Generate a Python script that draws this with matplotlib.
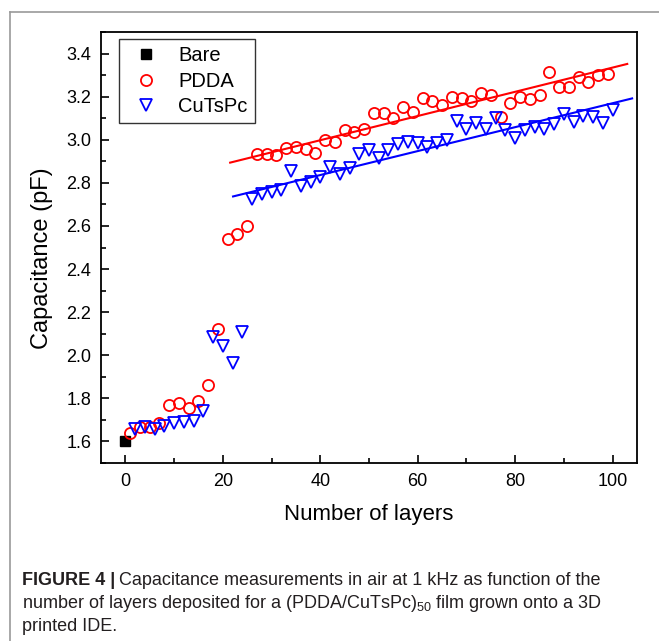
import numpy as np
import matplotlib
matplotlib.use("Agg")
import matplotlib.pyplot as plt
from matplotlib.lines import Line2D

plt.rcParams['font.family'] = ['Liberation Sans', 'DejaVu Sans']
plt.rcParams['mathtext.default'] = 'regular'

# data
bare_x = [0]
bare_y = [1.60]

pdda_x = list(range(1, 100, 2))
pdda_y = [1.640, 1.665, 1.665, 1.685, 1.770, 1.778, 1.756, 1.790, 1.864, 2.122,
          2.538, 2.565, 2.600, 2.935, 2.935, 2.930, 2.963, 2.966, 2.958, 2.938,
          3.000, 2.990, 3.046, 3.038, 3.051, 3.123, 3.123, 3.100, 3.154, 3.128,
          3.194, 3.179, 3.163, 3.200, 3.194, 3.182, 3.216, 3.208, 3.105, 3.171,
          3.200, 3.190, 3.208, 3.316, 3.244, 3.247, 3.290, 3.267, 3.302, 3.305]

cutspc_x = list(range(2, 101, 2))
cutspc_y = [1.660, 1.665, 1.660, 1.673, 1.685, 1.690, 1.695, 1.742, 2.083, 2.044,
            1.966, 2.106, 2.727, 2.747, 2.757, 2.768, 2.855, 2.784, 2.804, 2.827,
            2.873, 2.839, 2.870, 2.932, 2.954, 2.917, 2.954, 2.981, 2.989, 2.986,
            2.966, 2.986, 3.000, 3.086, 3.048, 3.077, 3.051, 3.100, 3.046, 3.007,
            3.046, 3.058, 3.051, 3.071, 3.120, 3.081, 3.112, 3.108, 3.077, 3.139]

# linear fit lines (end points)
pdda_fit_x = [21.5, 103.0]
pdda_fit_y = [2.894, 3.352]
cutspc_fit_x = [22.1, 104.0]
cutspc_fit_y = [2.737, 3.192]

fig = plt.figure(figsize=(6.59, 6.41), dpi=100)
ax = fig.add_axes([0.1533, 0.2777, 0.8133, 0.6723])

ax.plot(pdda_fit_x, pdda_fit_y, color='#ff0000', lw=1.5)
ax.plot(cutspc_fit_x, cutspc_fit_y, color='#0000ff', lw=1.5)

ax.plot(bare_x, bare_y, 's', color='black', ms=7, label='Bare', ls='none')
ax.plot(pdda_x, pdda_y, 'o', mfc='none', mec='#ff0000', ms=8, mew=1.3,
        label='PDDA', ls='none')
ax.plot(cutspc_x, cutspc_y, 'v', mfc='none', mec='#0000ff', ms=8.5, mew=1.3,
        label='CuTsPc', ls='none')

ax.set_xlim(-5, 105)
ax.set_ylim(1.5, 3.5)
ax.set_xticks([0, 20, 40, 60, 80, 100])
ax.set_xticks(range(10, 100, 20), minor=True)
ax.set_yticks(np.arange(1.6, 3.41, 0.2))
ax.set_yticks(np.arange(1.5, 3.51, 0.2), minor=True)
ax.yaxis.set_major_formatter(matplotlib.ticker.FormatStrFormatter('%.1f'))
ax.tick_params(which='both', direction='in', width=1.2, labelsize=13)
ax.tick_params(which='major', length=6, pad=7)
ax.tick_params(which='minor', length=3.5)
for s in ax.spines.values():
    s.set_linewidth(1.3)

ax.set_xlabel('Number of layers', fontsize=16, labelpad=10)
ax.set_ylabel('Capacitance (pF)', fontsize=17)
ax.yaxis.set_label_coords(-0.09, 0.476)

leg = ax.legend(loc='upper left', bbox_to_anchor=(0.0336, 0.9838), borderaxespad=0,
                fontsize=14.5, frameon=True, fancybox=False, edgecolor='black',
                handletextpad=0.6, labelspacing=0.33, handlelength=2.0, borderpad=0.35)
leg.get_frame().set_linewidth(1.0)

# figure frame (left and top rules)
fig.add_artist(Line2D([10 / 659, 10 / 659], [0, 1 - 12 / 641], color='#9a9a9a', lw=1.2))
fig.add_artist(Line2D([10 / 659, 1], [1 - 12 / 641, 1 - 12 / 641], color='#9a9a9a', lw=1.2))

# caption
y1 = 1 - 585 / 641
t1 = fig.text(22 / 659, y1, 'FIGURE 4 |', fontsize=13, fontweight='bold', color='#231f20')
fig.canvas.draw()
bb = t1.get_window_extent()
fig.text((bb.x1 + 4) / 659, y1, 'Capacitance measurements in air at 1 kHz as function of the',
         fontsize=13, color='#231f20')
fig.text(22 / 659, 1 - 608 / 641,
         'number of layers deposited for a (PDDA/CuTsPc)$_{50}$ film grown onto a 3D',
         fontsize=13, color='#231f20')
fig.text(22 / 659, 1 - 631 / 641, 'printed IDE.', fontsize=13, color='#231f20')

fig.savefig('out.png', dpi=100)
